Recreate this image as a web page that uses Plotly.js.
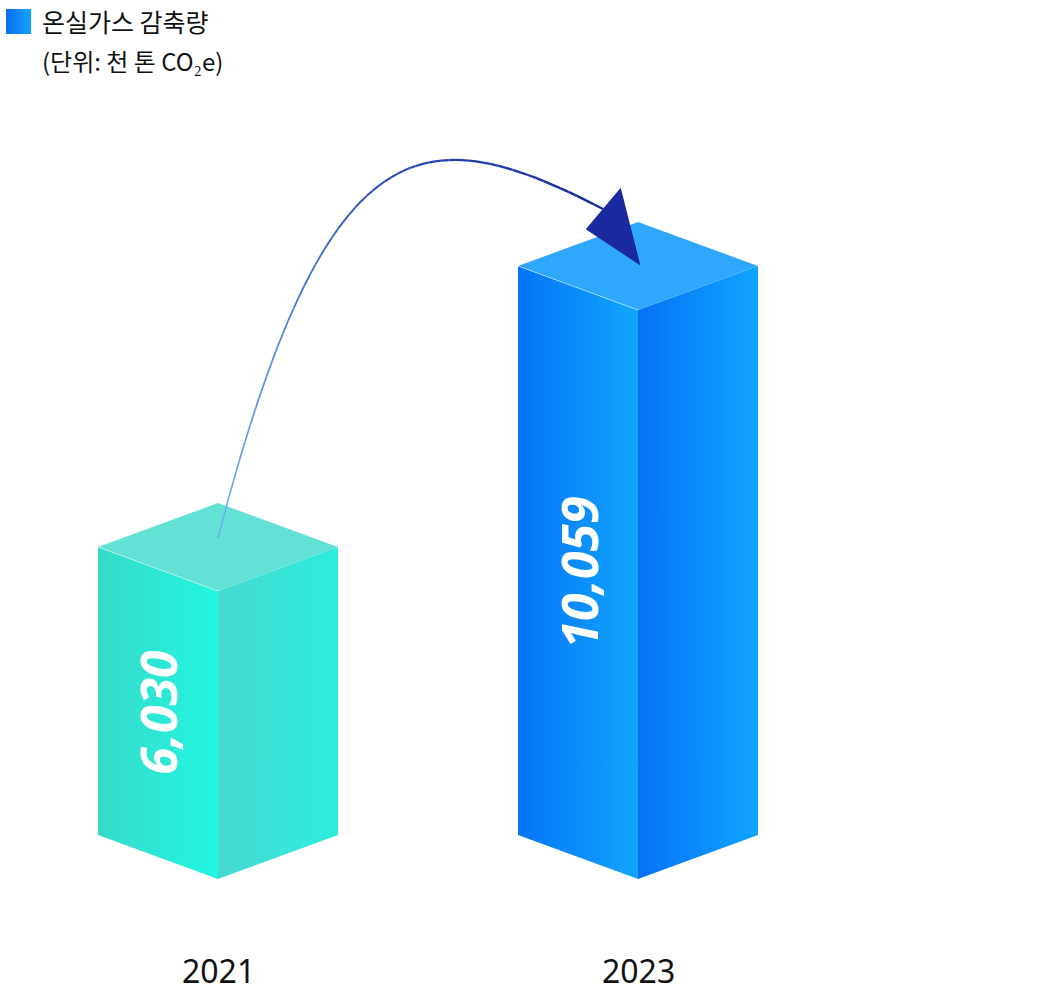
<!DOCTYPE html>
<html>
<head>
<meta charset="utf-8">
<script src="https://cdn.plot.ly/plotly-3.0.1.min.js"></script>
<style>html,body{margin:0;padding:0;background:#fff;}#chart{width:1060px;height:1000px;}</style>
</head>
<body>
<div id="chart"></div>
<script>
// ---- data ----
const categories = ['2021', '2023'];
const values = [6030, 10059];
const valueLabels = ['6,030', '10,059'];
const seriesName = '온실가스 감축량';
const unitLabel = '(단위: 천 톤 CO₂e)';

// ---- layout constants ----
const W = 1060, H = 1000;
const xRange = [-218 / 420, (1060 - 218) / 420];
const yRange = [166, 14504];
const BASE = 1901;               // visual baseline of the bars
const HALF_W = 120 / 420;        // half width of a bar (x units)
const DEPTH = 44 * (yRange[1] - yRange[0]) / H; // isometric rise (y units)

const faceColors = [
  {left: ['#37D9C9', '#22F6E1'], right: ['#47D9D2', '#2CEDDD'], top: '#63E1D7'},
  {left: ['#0574F7', '#12A6FC'], right: ['#0671F7', '#10A4FD'], top: '#2EA7FC'}
];

function xToPx(x) { return (x - xRange[0]) / (xRange[1] - xRange[0]) * W; }
function yToPy(y) { return (yRange[1] - y) / (yRange[1] - yRange[0]) * H; }
function pxToX(px) { return xRange[0] + px / W * (xRange[1] - xRange[0]); }
function pyToY(py) { return yRange[1] - py / H * (yRange[1] - yRange[0]); }

const traces = [];
categories.forEach((c, i) => {
  const v = values[i];
  const fc = faceColors[i];
  traces.push({
    type: 'scatter', mode: 'lines', hoverinfo: 'skip', showlegend: false,
    x: [i, i - HALF_W, i - HALF_W, i, i],
    y: [BASE, BASE + DEPTH, v + DEPTH, v, BASE],
    fill: 'toself', line: {width: 0},
    fillgradient: {type: 'horizontal', colorscale: [[0, fc.left[0]], [1, fc.left[1]]]}
  });
  traces.push({
    type: 'scatter', mode: 'lines', hoverinfo: 'skip', showlegend: false,
    x: [i, i + HALF_W, i + HALF_W, i, i],
    y: [BASE, BASE + DEPTH, v + DEPTH, v, BASE],
    fill: 'toself', line: {width: 0},
    fillgradient: {type: 'horizontal', colorscale: [[0, fc.right[0]], [1, fc.right[1]]]}
  });
  traces.push({
    type: 'scatter', mode: 'lines', hoverinfo: 'skip', showlegend: false,
    x: [i, i - HALF_W, i, i + HALF_W, i],
    y: [v, v + DEPTH, v + 2 * DEPTH, v + DEPTH, v],
    fill: 'toself', fillcolor: fc.top, line: {width: 0}
  });
  // subtle highlight on the top-left edge
  traces.push({
    type: 'scatter', mode: 'lines', hoverinfo: 'skip', showlegend: false,
    x: [i - HALF_W, i], y: [v + DEPTH, v],
    line: {width: 1, color: 'rgba(255,255,255,0.45)'}
  });
});

// legend square
const lg = {x0: 6, y0: 9, x1: 31, y1: 34};
traces.push({
  type: 'scatter', mode: 'lines', hoverinfo: 'skip', showlegend: false,
  x: [pxToX(lg.x0), pxToX(lg.x1), pxToX(lg.x1), pxToX(lg.x0), pxToX(lg.x0)],
  y: [pyToY(lg.y0), pyToY(lg.y0), pyToY(lg.y1), pyToY(lg.y1), pyToY(lg.y0)],
  fill: 'toself', line: {width: 0},
  fillgradient: {type: 'horizontal', colorscale: [[0, '#0A6DF5'], [1, '#13A4F9']]}
});

const annotations = [];
categories.forEach((c, i) => {
  const v = values[i];
  annotations.push({
    x: i - HALF_W / 2, y: (v + BASE) / 2 + DEPTH / 2, xref: 'x', yref: 'y',
    text: valueLabels[i], showarrow: false, textangle: -90,
    font: {family: 'Noto Sans', size: 50, color: '#ffffff', weight: 700, style: 'italic'}
  });
  annotations.push({
    x: i, y: pyToY(970), xref: 'x', yref: 'y', text: c, showarrow: false,
    font: {family: 'Noto Sans', size: 32, color: '#111111'}
  });
});
annotations.push({
  x: 40 / W, y: 1 - 21 / H, xref: 'paper', yref: 'paper', xanchor: 'left', yanchor: 'middle',
  text: seriesName, showarrow: false,
  font: {family: 'Noto Sans CJK KR', size: 25, color: '#111111'}
});
annotations.push({
  x: 40 / W, y: 1 - 60 / H, xref: 'paper', yref: 'paper', xanchor: 'left', yanchor: 'middle',
  text: unitLabel, showarrow: false,
  font: {family: 'Noto Sans CJK KR', size: 24, color: '#111111'}
});

// arrow from bar 1 top to bar 2 top
const shapes = [];
const P0 = [xToPx(0), yToPy(values[0] + DEPTH) - 9];
const tip = [xToPx(1), yToPy(values[1] + DEPTH) - 4];
const P3 = [tip[0] - 35, tip[1] - 53];
const P1 = [P0[0] + 109, P0[1] - 420];
const P2 = [P3[0] - 178, P3[1] - 92];
function bez(t) {
  const a = (1 - t) ** 3, b = 3 * (1 - t) ** 2 * t, c = 3 * (1 - t) * t * t, d = t ** 3;
  return [a * P0[0] + b * P1[0] + c * P2[0] + d * P3[0], a * P0[1] + b * P1[1] + c * P2[1] + d * P3[1]];
}
function mix(c1, c2, f) { return c1.map((v, k) => Math.round(v + (c2[k] - v) * f)); }
const cA = [112, 176, 240], cB = [45, 80, 190], cC = [24, 40, 156];
const N = 60;
for (let k = 0; k < N; k++) {
  const t0 = k / N, t1 = (k + 1) / N;
  const p = bez(t0), q = bez(t1);
  const tm = (t0 + t1) / 2;
  const col = tm < 0.45 ? mix(cA, cB, tm / 0.45) : mix(cB, cC, (tm - 0.45) / 0.55);
  shapes.push({
    type: 'line', xref: 'paper', yref: 'paper',
    x0: p[0] / W, y0: 1 - p[1] / H, x1: q[0] / W, y1: 1 - q[1] / H,
    line: {color: 'rgb(' + col.join(',') + ')', width: 1.6 + 0.9 * tm}
  });
}
const head = [[tip[0], tip[1]], [tip[0] - 18, tip[1] - 71], [tip[0] - 50, tip[1] - 33]];
shapes.push({
  type: 'path', xref: 'paper', yref: 'paper',
  path: 'M' + head.map(p => (p[0] / W) + ',' + (1 - p[1] / H)).join(' L') + ' Z',
  fillcolor: '#1A2A9E', line: {color: '#1A2A9E', width: 3}
});

const layout = {
  width: W, height: H,
  margin: {l: 0, r: 0, t: 0, b: 0},
  paper_bgcolor: '#ffffff', plot_bgcolor: '#ffffff',
  showlegend: false,
  xaxis: {range: xRange, visible: false, fixedrange: true},
  yaxis: {range: yRange, visible: false, fixedrange: true},
  annotations: annotations,
  shapes: shapes
};

Plotly.newPlot('chart', traces, layout, {displayModeBar: false, staticPlot: true});
</script>
</body>
</html>
